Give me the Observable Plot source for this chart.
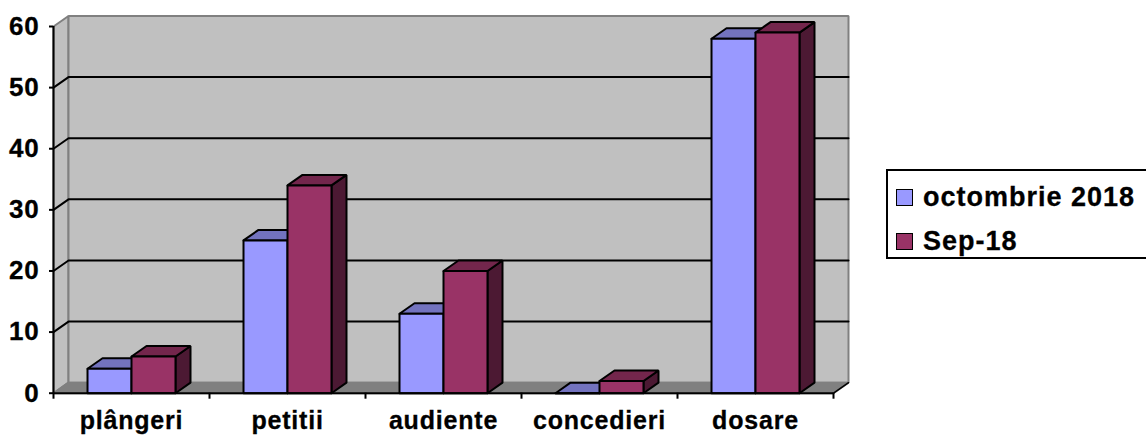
<!DOCTYPE html>
<html>
<head>
<meta charset="utf-8">
<script src="https://cdn.jsdelivr.net/npm/d3@7"></script>
<script src="https://cdn.jsdelivr.net/npm/@observablehq/plot@0.6"></script>
<style>
html,body{margin:0;padding:0;background:#fff;overflow:hidden}
#wrap{position:relative;width:1146px;height:435px}
svg text{letter-spacing:.8px;stroke:#000;stroke-width:.3px}
#legend{position:absolute;left:886px;top:169px;width:262px;height:86px;border:2px solid #000;box-sizing:content-box;
  font:bold 27px "Liberation Sans",Arial,sans-serif;letter-spacing:1px;color:#000;-webkit-text-stroke:.3px #000}
.row{position:absolute;left:8px;display:flex;align-items:center;height:24px}
.sw{width:15px;height:15px;border:1.5px solid #000;margin-right:10px}
</style>
</head>
<body>
<div id="wrap"></div>
<script>
const categories = ["plângeri","petitii","audiente","concedieri","dosare"];
const seriesNames = ["octombrie 2018","Sep-18"];
const octombrie2018 = [4,25,13,0,58];
const sep18 = [6,34,20,2,59];
const yTicks = [0,10,20,30,40,50,60];
const xEdges = [0,1,2,3,4,5];
const frontColors = ["#9999FF","#993366"];
const topColors = ["#7373BF","#73264C"];
const sideColors = ["#4C4C80","#4C1933"];

// projection depth and bar layout, in data units
const dx = 0.0962, dy = 1.72, gap = 0.218, barW = 0.282;

const polys = [];
let id = 0;
const poly = (pts, fill) => { id++; [...pts, pts[0]].forEach(([x,y]) => polys.push({x,y,id,fill})); };
[octombrie2018, sep18].forEach((vals, s) => {
  vals.forEach((v, i) => {
    const x0 = i + gap + s*barW, x1 = x0 + barW;
    poly([[x1,0],[x1+dx,dy],[x1+dx,v+dy],[x1,v]], sideColors[s]);
    poly([[x0,v],[x0+dx,v+dy],[x1+dx,v+dy],[x1,v]], topColors[s]);
    poly([[x0,0],[x1,0],[x1,v],[x0,v]], frontColors[s]);
  });
});

const wallPolys = [];
const wall = (pts, fill) => { id++; [...pts, pts[0]].forEach(([x,y]) => wallPolys.push({x,y,id,fill})); };
wall([[0,0],[dx,dy],[dx,60+dy],[0,60]], "#C0C0C0");
wall([[dx,dy],[5+dx,dy],[5+dx,60+dy],[dx,60+dy]], "#C0C0C0");
wall([[0,0],[5,0],[5+dx,dy],[dx,dy]], "#808080");

const grid = [];
yTicks.filter(v => v > 0 && v < 60).forEach(v => {
  grid.push({x:0,y:v,v},{x:dx,y:v+dy,v},{x:5+dx,y:v+dy,v});
});
const endSlant = [{x:5,y:0},{x:5+dx,y:dy}];

const chart = Plot.plot({
  width:1146, height:435,
  marginLeft:53, marginRight:313, marginTop:26, marginBottom:42.3,
  x:{domain:[0,5]}, y:{domain:[0,60]},
  color:{type:"identity"},
  style:{background:"transparent",overflow:"visible"},
  marks:[
    Plot.line(wallPolys,{x:"x",y:"y",z:"id",fill:"fill",stroke:"#808080",strokeWidth:2,strokeLinejoin:"miter"}),
    Plot.line(grid,{x:"x",y:"y",z:"v",stroke:"#000",strokeWidth:2}),
    Plot.line(endSlant,{x:"x",y:"y",stroke:"#000",strokeWidth:1.5}),
    Plot.line(polys,{x:"x",y:"y",z:"id",fill:"fill",stroke:"#000",strokeWidth:2,strokeLinejoin:"miter"}),
    Plot.ruleX([0],{stroke:"#000",strokeWidth:2}),
    Plot.ruleY([0],{stroke:"#000",strokeWidth:2}),
    Plot.axisY({ticks:yTicks,tickSize:4,tickPadding:10,label:null,stroke:"#000",strokeWidth:2,
      fontSize:26,fontWeight:"bold",fontFamily:"Liberation Sans",fill:"#000"}),
    Plot.axisX({ticks:xEdges,tickSize:6,tickFormat:()=>"",label:null,stroke:"#000",strokeWidth:2}),
    Plot.axisX({ticks:categories.map((_,i)=>i+0.5),tickSize:0,tickPadding:18,label:null,
      tickFormat:t=>categories[Math.floor(t)],
      fontSize:25,fontWeight:"bold",fontFamily:"Liberation Sans",fill:"#000"})
  ]
});
document.getElementById("wrap").appendChild(chart);

const legend = document.createElement("div");
legend.id = "legend";
seriesNames.forEach((n,i)=>{
  const r = document.createElement("div");
  r.className = "row";
  r.style.top = (i===0?14:58)+"px";
  const s = document.createElement("span");
  s.className = "sw";
  s.style.background = frontColors[i];
  const t = document.createElement("span");
  t.textContent = n;
  r.append(s,t);
  legend.append(r);
});
document.getElementById("wrap").appendChild(legend);
</script>
</body>
</html>
